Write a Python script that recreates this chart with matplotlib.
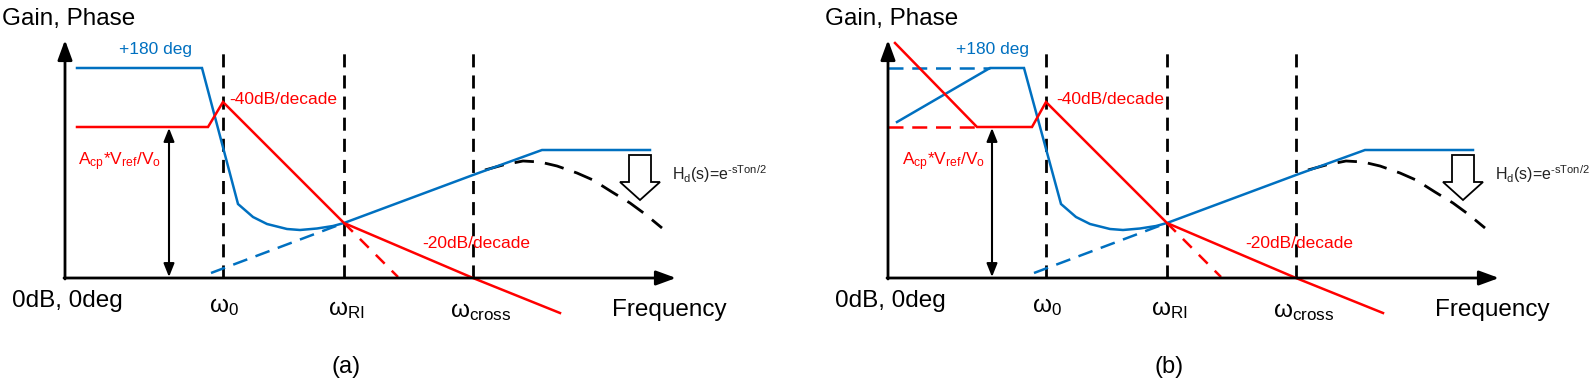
'''
Bode sketch of the current-mode loop, panels (a) and (b)
'''
import matplotlib.pyplot as plt
from matplotlib.patches import Polygon

plt.rcParams['font.family'] = ['Liberation Sans', 'DejaVu Sans']
plt.rcParams['mathtext.fontset'] = 'custom'
plt.rcParams['mathtext.rm'] = 'Liberation Sans'
plt.rcParams['mathtext.it'] = 'Liberation Sans'

BLUE = '#0070C0'
RED = '#FF0000'

# x is measured from the gain axis, y above the 0dB line
# break frequencies (dashed verticals)
w_0 = 158
w_ri = 279
w_cross = 408
vline_top = 226

# phase curve (blue)
phase_x_a = [12, 137, 173, 188, 202, 222, 235, 252, 268, 279, 408, 477, 585]
phase_y_a = [210, 210, 74, 61, 54, 49, 48, 49.5, 52, 55, 103, 128, 128]
phase_x_b = [9, 102, 136, 173, 188, 202, 222, 235, 252, 268, 279, 408, 477, 585]
phase_y_b = [156, 210, 210, 74, 61, 54, 49, 48, 49.5, 52, 55, 103, 128, 128]
phase_asym_x = [146, 279]
phase_asym_y = [5, 55]
phase_flat_b_x = [0, 102]
phase_flat_b_y = [210, 210]

# gain curve (red)
gain_x_a = [12, 143, 158, 279, 408, 495]
gain_y_a = [151, 151, 176, 55, 0, -35]
gain_x_b = [7, 89, 144, 158, 279, 408, 495]
gain_y_b = [235, 151, 151, 176, 55, 0, -35]
gain_asym_x = [279, 333]
gain_asym_y = [55, 1]
gain_flat_b_x = [0, 89]
gain_flat_b_y = [151, 151]

# phase with the delay Hd(s) (black dashed)
delay_x = [420, 438, 458, 475, 492, 512, 528, 547, 565, 580, 597]
delay_y = [108, 113, 117, 116, 112, 105, 98, 86, 75, 64, 50]

# hollow arrow below the phase plateau
harrow_x = [564, 586, 586, 595, 575, 555, 564]
harrow_y = [123, 123, 96, 96, 78, 96, 96]


def draw_panel(ax, name, phase_x, phase_y, gain_x, gain_y, extra, lbl_dx):
    ax.set_xlim(-65, -65 + ax_w[name])
    ax.set_ylim(-104, 278)
    ax.axis('off')

    # axes with arrow heads
    arr = dict(arrowstyle='-|>,head_length=0.6,head_width=0.22',
               mutation_scale=20, lw=2, color='k', shrinkA=0, shrinkB=0)
    ax.annotate('', xy=(0, 238), xytext=(0, -1), arrowprops=arr)
    ax.annotate('', xy=(611, 0), xytext=(-1, 0), arrowprops=arr)

    for xv in [w_0, w_ri, w_cross]:
        ax.plot([xv, xv], [0, vline_top], color='k', lw=2,
                linestyle=(0, (4.7, 2.9)))

    if extra:
        ax.plot(phase_flat_b_x, phase_flat_b_y, color=BLUE, lw=1.8,
                linestyle=(0, (6, 3.5)))
        ax.plot(gain_flat_b_x, gain_flat_b_y, color=RED, lw=1.8,
                linestyle=(0, (6, 3.5)))
    ax.plot(phase_asym_x, phase_asym_y, color=BLUE, lw=1.8,
            linestyle=(0, (6, 3.5)))
    ax.plot(gain_asym_x, gain_asym_y, color=RED, lw=1.8,
            linestyle=(0, (5, 4)))
    ax.plot(delay_x, delay_y, color='k', lw=2, linestyle=(0, (7, 4)))

    ax.plot(phase_x, phase_y, color=BLUE, lw=1.8, solid_joinstyle='miter')
    ax.plot(gain_x, gain_y, color=RED, lw=1.8, solid_joinstyle='miter')

    # DC gain marker
    ax.annotate('', xy=(104, 1), xytext=(104, 150),
                arrowprops=dict(arrowstyle='<|-|>,head_length=0.5,head_width=0.2',
                                mutation_scale=16, lw=1.5, color='k',
                                shrinkA=0, shrinkB=0))

    ax.add_patch(Polygon(list(zip(harrow_x, harrow_y)), closed=True,
                         fill=False, edgecolor='k', lw=1.3))

    ax.text(-63, 253, 'Gain, Phase', fontsize=17.5, va='baseline')
    ax.text(-53, -29, '0dB, 0deg', fontsize=17.5, va='baseline')
    ax.text(547, -38, 'Frequency', fontsize=17.5, va='baseline')
    ax.text(144, -34, r'ω$_\mathregular{0}$', fontsize=17.5, va='baseline')
    ax.text(263, -37, r'ω$_\mathregular{RI}$', fontsize=17.5, va='baseline')
    ax.text(385, -39, r'ω$_\mathregular{cross}$', fontsize=17.5, va='baseline')
    ax.text(281, -95, '(%s)' % name, fontsize=17, va='baseline', ha='center')

    ax.text(54 + lbl_dx[0], 224, '+180 deg', fontsize=12.5, color=BLUE,
            va='baseline')
    ax.text(164 + lbl_dx[1], 174, '-40dB/decade', fontsize=12.5, color=RED,
            va='baseline')
    ax.text(13 + lbl_dx[2], 113,
            r'A$_\mathregular{cp}$*V$_\mathregular{ref}$/V$_\mathregular{o}$',
            fontsize=12.5, color=RED, va='baseline')
    ax.text(357, 30, '-20dB/decade', fontsize=12.5, color=RED, va='baseline')
    ax.text(607, 98, r'H$_\mathregular{d}$(s)=e$^\mathregular{‐sTon/2}$',
            fontsize=11.5, color='#222222', va='baseline')


ax_w = {'a': 800, 'b': 768}
W, H = 1591, 382
fig = plt.figure(figsize=(W / 100, H / 100), dpi=100)
ax_a = fig.add_axes([0, 0, 800 / W, 1])
ax_b = fig.add_axes([823 / W, 0, 768 / W, 1])

draw_panel(ax_a, 'a', phase_x_a, phase_y_a, gain_x_a, gain_y_a, False, (0, 0, 0))
draw_panel(ax_b, 'b', phase_x_b, phase_y_b, gain_x_b, gain_y_b, True, (14, 4, 1))

fig.savefig('out.png', dpi=100)
